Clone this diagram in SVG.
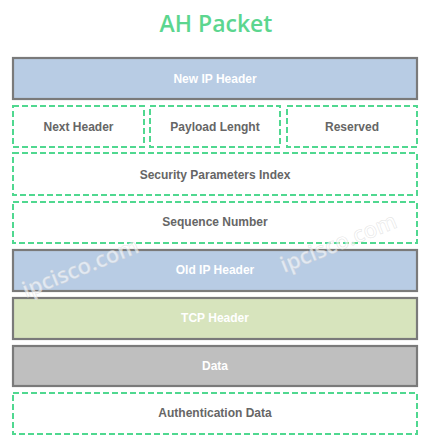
<svg xmlns="http://www.w3.org/2000/svg" width="432" height="448" viewBox="0 0 432 448">
<style>
.solid{stroke:#7a7a7a;stroke-width:2.2}
.dash{fill:#fff;stroke:#50d890;stroke-width:2;stroke-dasharray:6 3}
.lbl{font-family:"Liberation Sans",Arial,sans-serif;font-weight:bold;font-size:12px;text-anchor:middle;dominant-baseline:central}
.dark{fill:#666666}
.light{fill:#ffffff}
.wm{font-family:"Open Sans","Liberation Sans",sans-serif;font-weight:600;font-size:22px;fill:#ffffff;fill-opacity:0.6;stroke:#d4d4d4;stroke-width:0.6;stroke-opacity:0.6}
</style>
<rect width="432" height="448" fill="#ffffff"/>
<text x="216" y="32" font-family="'Open Sans','Liberation Sans',sans-serif" font-weight="600" font-size="23" fill="#5cd68f" text-anchor="middle">AH Packet</text>
<g id="new-ip-header"><rect class="solid" x="13" y="58" width="404" height="41" fill="#b8cce4"/><text class="lbl light" x="215" y="79">New IP Header</text></g>
<g id="next-header"><rect class="dash" x="13" y="106" width="131" height="41"/><text class="lbl dark" x="78.5" y="127">Next Header</text></g>
<g id="payload-length"><rect class="dash" x="150" y="106" width="130" height="41"/><text class="lbl dark" x="215" y="127">Payload Lenght</text></g>
<g id="reserved"><rect class="dash" x="287" y="106" width="130" height="41"/><text class="lbl dark" x="352" y="127">Reserved</text></g>
<g id="spi"><rect class="dash" x="13" y="153" width="404" height="42"/><text class="lbl dark" x="215" y="174.5">Security Parameters Index</text></g>
<g id="sequence-number"><rect class="dash" x="13" y="202" width="404" height="41"/><text class="lbl dark" x="215" y="222">Sequence Number</text></g>
<g id="old-ip-header"><rect class="solid" x="13" y="250" width="404" height="41" fill="#b8cce4"/><text class="lbl light" x="215" y="270">Old IP Header</text></g>
<g id="tcp-header"><rect class="solid" x="13" y="298" width="404" height="41" fill="#d7e4bd"/><text class="lbl light" x="215" y="318">TCP Header</text></g>
<g id="data"><rect class="solid" x="13" y="346" width="404" height="40" fill="#bfbfbf"/><text class="lbl light" x="215" y="366">Data</text></g>
<g id="authentication-data"><rect class="dash" x="13" y="393" width="404" height="41"/><text class="lbl dark" x="215" y="413">Authentication Data</text></g>
<g id="connectors"></g>
<text class="wm" x="26" y="298" transform="rotate(-22 26 298)">ipcisco.com</text>
<text class="wm" x="284" y="273" transform="rotate(-22 284 273)">ipcisco.com</text>
</svg>
